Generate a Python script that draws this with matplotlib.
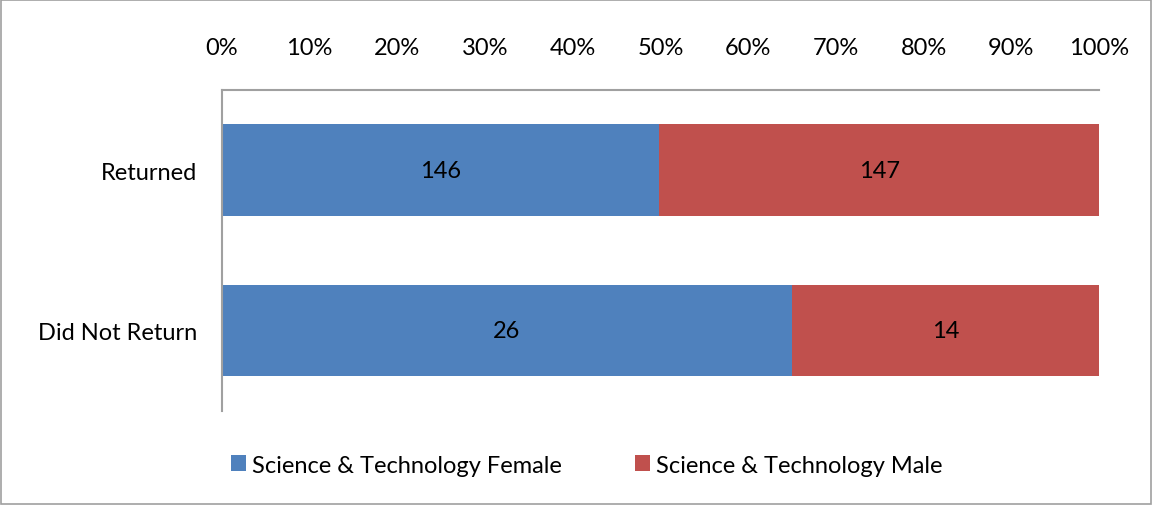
import numpy as np
import matplotlib.pyplot as plt
from matplotlib.patches import Rectangle

plt.rcParams['font.family'] = ['Lato', 'DejaVu Sans']

categories = ['Returned', 'Did Not Return']
female = [146, 26]
male = [147, 14]
series_names = ['Science & Technology Female', 'Science & Technology Male']
colors = ['#4F81BD', '#C0504D']
ticks = [0, 10, 20, 30, 40, 50, 60, 70, 80, 90, 100]

female = np.array(female, dtype=float)
male = np.array(male, dtype=float)
total = female + male
f_pct = female / total * 100
m_pct = male / total * 100

fs = 17

fig = plt.figure(figsize=(11.53, 5.06), dpi=100)
ax = fig.add_axes([0.1925, 0.1858, 0.7607, 0.6344])

y = np.arange(len(categories))
h = 0.57
b1 = ax.barh(y, f_pct, height=h, color=colors[0], label=series_names[0])
b2 = ax.barh(y, m_pct, left=f_pct, height=h, color=colors[1], label=series_names[1])

for i in range(len(categories)):
    ax.text(f_pct[i] / 2, y[i], f'{int(female[i])}', ha='center', va='center',
            fontsize=fs, color='black')
    ax.text(f_pct[i] + m_pct[i] / 2, y[i], f'{int(male[i])}', ha='center', va='center',
            fontsize=fs, color='black')

ax.set_xlim(0, 100)
ax.set_ylim(len(categories) - 0.5, -0.5)
ax.set_yticks(y)
ax.set_yticklabels(categories, fontsize=fs)
ax.set_xticks(ticks)
ax.set_xticklabels([f'{t}%' for t in ticks], fontsize=fs)
ax.xaxis.tick_top()
ax.tick_params(axis='x', length=0, pad=23)
ax.tick_params(axis='y', length=0, pad=18)

for s in ['right', 'bottom']:
    ax.spines[s].set_visible(False)
for s in ['top', 'left']:
    ax.spines[s].set_color('#A0A0A0')
    ax.spines[s].set_linewidth(1.5)

fig.legend(handles=[b1, b2], loc='center', bbox_to_anchor=(0.509, 0.079),
           ncol=2, frameon=False, fontsize=fs, handlelength=0.64, handleheight=0.64,
           handletextpad=0.25, columnspacing=3.1)

fig.add_artist(Rectangle((0.001, 0.002), 0.997, 0.996, transform=fig.transFigure,
                         fill=False, edgecolor='#A0A0A0', linewidth=1.2))

fig.savefig('out.png', dpi=100)
